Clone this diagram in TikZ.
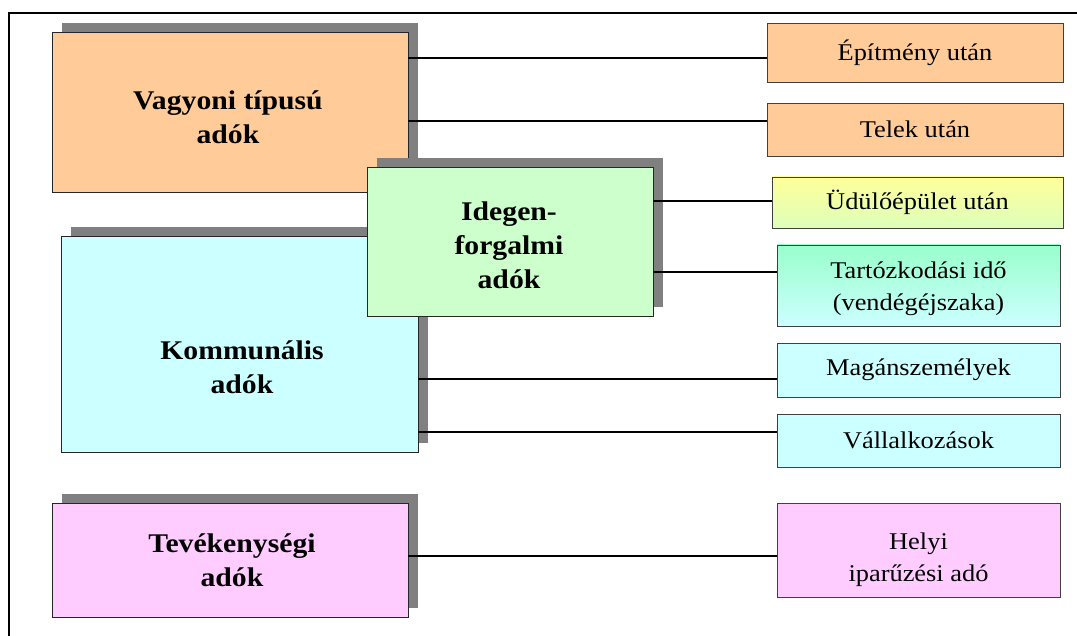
\documentclass[tikz,border=0pt]{standalone}
\usepackage{fontspec}
\setmainfont{Liberation Serif}[FakeStretch=1.1]
\usetikzlibrary{shadows}

\definecolor{propfill}{HTML}{FFCC99}
\definecolor{tourfill}{HTML}{CCFFCC}
\definecolor{commfill}{HTML}{CCFFFF}
\definecolor{actfill}{HTML}{FFCCFF}
\definecolor{shadowgray}{HTML}{808080}
\definecolor{yellowtop}{HTML}{FFFF99}
\definecolor{yellowbot}{HTML}{DDFFBB}
\definecolor{minttop}{HTML}{99FFCC}
\definecolor{mintbot}{HTML}{CCFFFF}

\begin{document}
\begin{tikzpicture}[x=1pt,y=-1pt,
  groupbox/.style={draw=black!85, line width=0.8pt, inner sep=0pt,
    general shadow={shadow xshift=10pt, shadow yshift=9pt, fill=shadowgray}},
  itembox/.style={draw=black!75, line width=0.8pt, inner sep=0pt, align=center,
    font=\fontsize{24}{32}\selectfont},
  itemtext/.style={align=center, inner sep=0pt, font=\fontsize{24}{32}\selectfont},
  grouplabel/.style={align=center, inner sep=0pt,
    font=\fontsize{27}{34}\selectfont\bfseries},
  link/.style={line width=1.8pt, black},
  frameline/.style={line width=1.8pt, black}
]
\useasboundingbox (0,0) rectangle (1077,636);

% outer frame: top and left edges
\coordinate (frameTL) at (9,13);
\coordinate (frameTR) at (1077,13);
\coordinate (frameBL) at (9,636);
\draw[frameline] (frameTR) -- (frameTL) -- (frameBL);

% group boxes (drawn back to front)
\node[groupbox, fill=propfill, minimum width=356pt, minimum height=160pt] (vag) at (230,112) {};
\node[groupbox, fill=commfill, minimum width=357pt, minimum height=216pt] (kom) at (239.5,344) {};
\node[groupbox, fill=tourfill, minimum width=286pt, minimum height=149pt] (ideg) at (510,241.5) {};
\node[groupbox, fill=actfill, minimum width=356pt, minimum height=114pt] (tev) at (230,560) {};

% group labels
\node[grouplabel] (vagtext) at (228,117) {Vagyoni típusú\\adók};
\node[grouplabel] (idegtext) at (509,245) {Idegen-\\forgalmi\\adók};
\node[grouplabel] (komtext) at (242,367) {Kommunális\\adók};
\node[grouplabel] (tevtext) at (232,560) {Tevékenységi\\adók};

% individual taxes
\node[itembox, fill=propfill, minimum width=296pt, minimum height=59pt] (epit) at (915,52.5) {Építmény után};
\node[itembox, fill=propfill, minimum width=296pt, minimum height=53pt] (telek) at (915,129.5) {Telek után};
\node[itembox, top color=yellowtop, bottom color=yellowbot, minimum width=291pt, minimum height=51pt] (udulo) at (917.5,202.5) {Üdülőépület után};
\node[itembox, top color=minttop, bottom color=mintbot, minimum width=283pt, minimum height=81pt] (tart) at (918.5,285.5) {};
\node[itemtext] (tarttext) at (918.5,289) {Tartózkodási idő\\(vendégéjszaka)};
\node[itembox, fill=commfill, minimum width=283pt, minimum height=54pt] (magan) at (918.5,370) {Magánszemélyek};
\node[itembox, fill=commfill, minimum width=283pt, minimum height=53pt] (vall) at (918.5,440.5) {Vállalkozások};
\node[itembox, fill=actfill, minimum width=283pt, minimum height=94pt] (helyi) at (918.5,550) {};
\node[itemtext] (helyitext) at (918.5,559.5) {Helyi\\iparűzési adó};

% connectors
\draw[link] (vag.east |- 0,58) -- (epit.west |- 0,58);
\draw[link] (vag.east |- 0,121) -- (telek.west |- 0,121);
\draw[link] (ideg.east |- 0,201) -- (udulo.west |- 0,201);
\draw[link] (ideg.east |- 0,272) -- (tart.west |- 0,272);
\draw[link] (kom.east |- 0,379) -- (magan.west |- 0,379);
\draw[link] (kom.east |- 0,432) -- (vall.west |- 0,432);
\draw[link] (tev.east |- 0,556) -- (helyi.west |- 0,556);
\end{tikzpicture}
\end{document}
